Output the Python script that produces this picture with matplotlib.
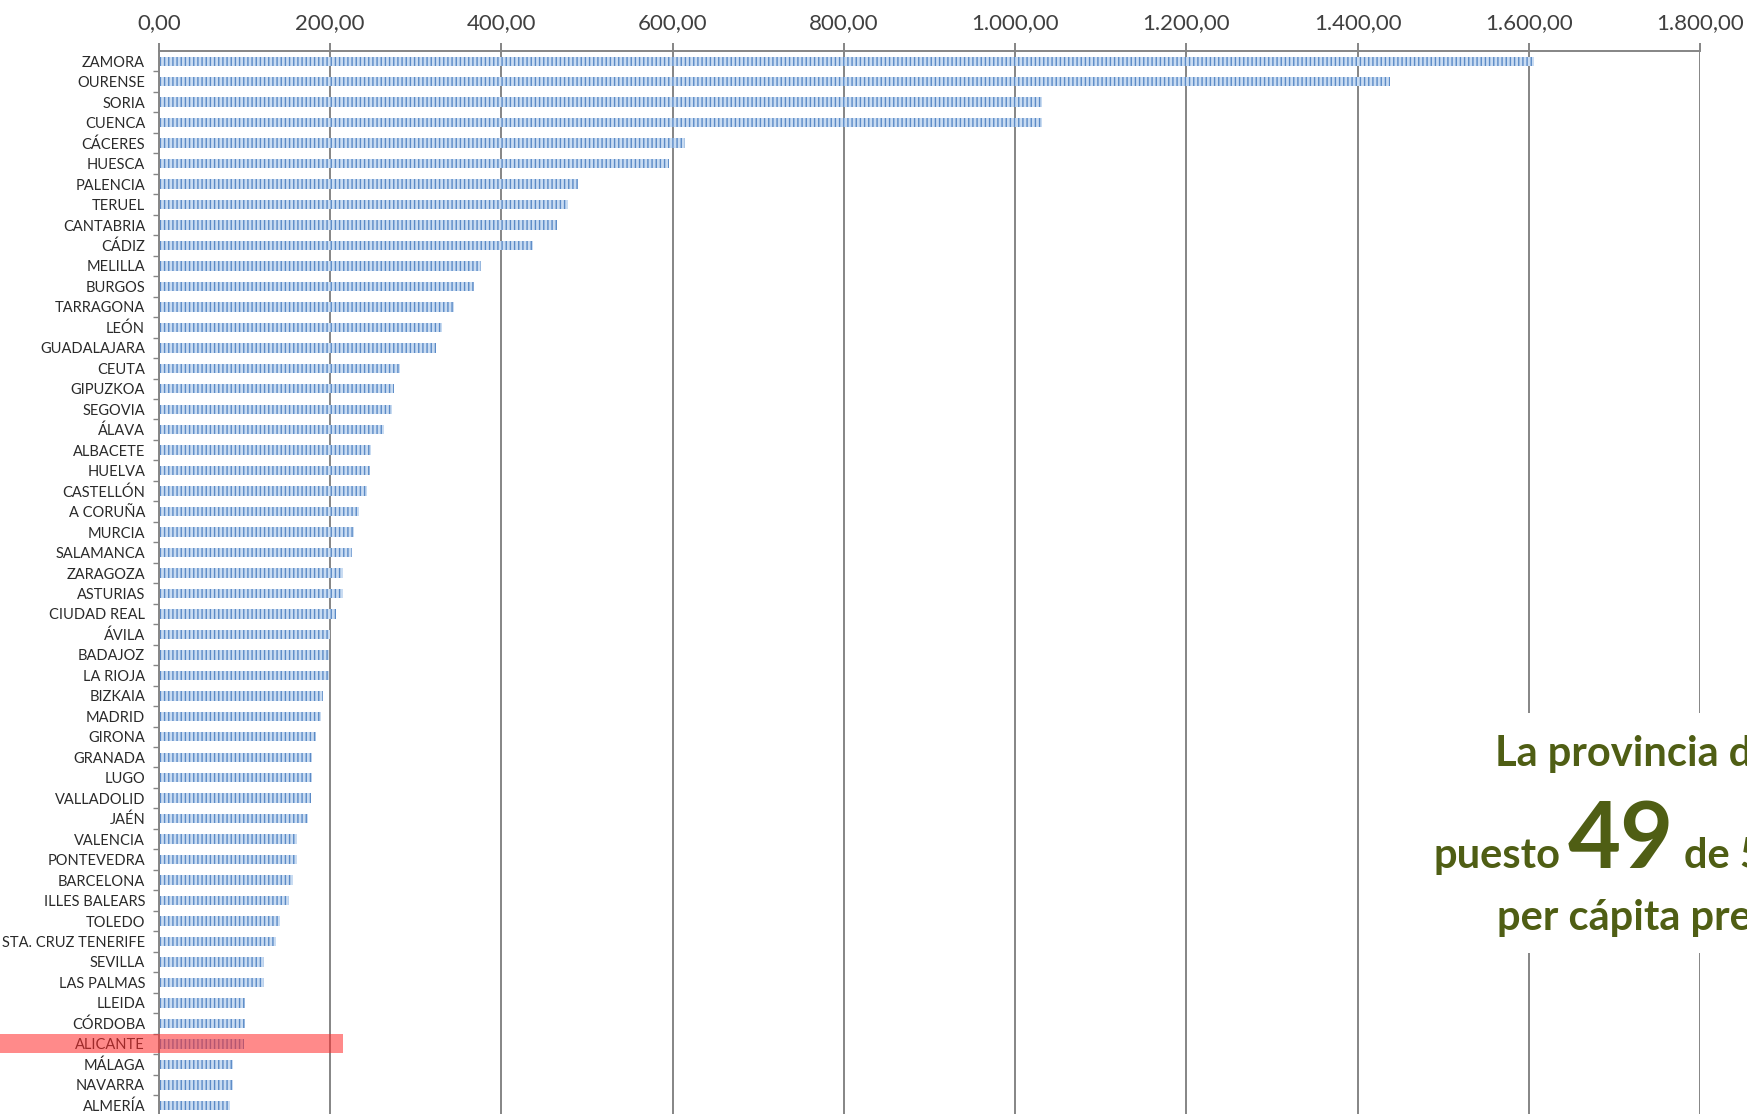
import matplotlib
matplotlib.use('Agg')
import matplotlib.pyplot as plt
from matplotlib.patches import Rectangle
from matplotlib.ticker import FixedLocator, FuncFormatter
import matplotlib.transforms as mtransforms

# Provinces, ordered as in the chart (top to bottom)
provincias = ['ZAMORA', 'OURENSE', 'SORIA', 'CUENCA', 'CÁCERES', 'HUESCA',
              'PALENCIA', 'TERUEL', 'CANTABRIA', 'CÁDIZ', 'MELILLA', 'BURGOS',
              'TARRAGONA', 'LEÓN', 'GUADALAJARA', 'CEUTA', 'GIPUZKOA', 'SEGOVIA',
              'ÁLAVA', 'ALBACETE', 'HUELVA', 'CASTELLÓN', 'A CORUÑA', 'MURCIA',
              'SALAMANCA', 'ZARAGOZA', 'ASTURIAS', 'CIUDAD REAL', 'ÁVILA',
              'BADAJOZ', 'LA RIOJA', 'BIZKAIA', 'MADRID', 'GIRONA', 'GRANADA',
              'LUGO', 'VALLADOLID', 'JAÉN', 'VALENCIA', 'PONTEVEDRA', 'BARCELONA',
              'ILLES BALEARS', 'TOLEDO', 'STA. CRUZ TENERIFE', 'SEVILLA',
              'LAS PALMAS', 'LLEIDA', 'CÓRDOBA', 'ALICANTE', 'MÁLAGA', 'NAVARRA',
              'ALMERÍA']

# Investment per capita (EUR)
inversion = [1606, 1438, 1031, 1031, 614, 596,
             489, 478, 465, 437, 376, 368,
             344, 331, 324, 282, 275, 272,
             263, 248, 247, 243, 234, 228,
             225, 215, 215, 207, 200,
             199, 199, 192, 189, 183, 179,
             179, 178, 174, 161, 161, 157,
             152, 141, 137, 123,
             123, 100, 100, 99, 86, 86,
             83]

x_ticks = [0, 200, 400, 600, 800, 1000, 1200, 1400, 1600, 1800]
destacada = 'ALICANTE'

W, H = 1747, 1114
grid_col = '#858585'
olive = '#4f5e14'

fig = plt.figure(figsize=(W / 100, H / 100), dpi=100)
ax = fig.add_axes([159 / W, -1.5 / H, (1700 - 159) / W, (1114 - 51 + 1.5) / H])

pos = list(range(len(provincias)))
ax.barh(pos, inversion, height=0.46, color='#c9dcf2', edgecolor='#5b8ac6',
        hatch='||||', linewidth=0, zorder=2)

ax.set_xlim(0, 1800)
ax.set_ylim(len(provincias) - 0.5, -0.5)

# x axis on top, Spanish number format
def fmt_es(v, _):
    s = f'{v:,.2f}'
    return s.replace(',', 'X').replace('.', ',').replace('X', '.')

ax.xaxis.tick_top()
ax.xaxis.set_major_locator(FixedLocator(x_ticks))
ax.xaxis.set_major_formatter(FuncFormatter(fmt_es))
ax.tick_params(axis='x', which='major', length=6, width=1.4, color=grid_col,
               pad=7, labelsize=16, labelcolor='#404040')
for lab in ax.get_xticklabels():
    lab.set_family('Lato')

ax.set_yticks(pos)
ax.set_yticklabels(provincias, family='Lato', fontsize=10.5, color='#2a2a2a')
ax.tick_params(axis='y', which='major', length=0, pad=10)
ax.set_yticks([p + 0.5 for p in pos], minor=True)
ax.tick_params(axis='y', which='minor', length=4, width=1, color=grid_col)

ax.grid(axis='x', color=grid_col, linewidth=1.4, zorder=1)
ax.set_axisbelow(True)
for side in ['right', 'bottom']:
    ax.spines[side].set_visible(False)
for side in ['top', 'left']:
    ax.spines[side].set_color(grid_col)
    ax.spines[side].set_linewidth(1.4)

# red highlight for Alicante, spanning the label
idx = provincias.index(destacada)
trans = mtransforms.blended_transform_factory(fig.transFigure, ax.transData)
ax.add_patch(Rectangle((0, idx - 0.46), 343 / W, 0.92, transform=trans,
                       facecolor='#ff2a2a', alpha=0.55, linewidth=0,
                       clip_on=False, zorder=6))

# white box behind the annotation
fig.patches.append(Rectangle((1420 / W, 1 - 953 / H), (W - 1420) / W, 240 / H,
                             transform=fig.transFigure, facecolor='white',
                             edgecolor='none', zorder=3))

fig.text(1495 / W, 1 - 766 / H, 'La provincia de Alicante ocupa el',
         family='Lato', fontweight='bold', fontsize=30, color=olive, zorder=4)
fig.text(1434 / W, 1 - 868 / H, 'puesto', family='Lato', fontweight='bold',
         fontsize=30, color=olive, zorder=4)
fig.text(1568 / W, 1 - 868 / H, '49', family='Lato', fontweight='bold',
         fontsize=66, color=olive, zorder=4)
fig.text(1684 / W, 1 - 868 / H, 'de 52 en inversión', family='Lato',
         fontweight='bold', fontsize=30, color=olive, zorder=4)
fig.text(1497 / W, 1 - 930 / H, 'per cápita presupuestada', family='Lato',
         fontweight='bold', fontsize=30, color=olive, zorder=4)

fig.savefig('out.png', dpi=100)
